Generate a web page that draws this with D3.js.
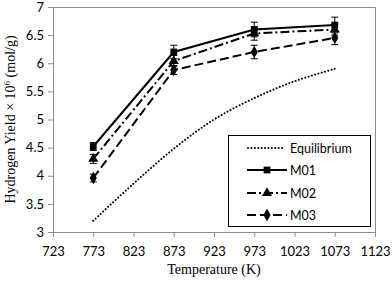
<!DOCTYPE html>
<html>
<head>
<meta charset="utf-8">
<script src="https://cdn.jsdelivr.net/npm/d3@7"></script>
<style>
	body { margin:0; background:#fff; }
	.tick_label { font-family:Lato, "Open Sans", sans-serif; font-size:13px; fill:#000; }
	.title { font-family:"Liberation Serif", "Times New Roman", serif; font-size:14px; fill:#000; }
	.leg_text { font-family:Lato, "Open Sans", sans-serif; font-size:12.5px; fill:#000; }
</style>
</head>
<body>
<svg id="chart" width="392" height="283"></svg>
<script>
"use strict";

// temperatures (K) for the catalyst runs
var temps = [773, 873, 973, 1073];
var m01 = [4.52, 6.2, 6.6, 6.68];
var m01_err = [0.07, 0.12, 0.13, 0.14];
var m02 = [4.3, 6.04, 6.53, 6.6];
var m02_err = [0.08, 0.1, 0.12, 0.1];
var m03 = [3.96, 5.88, 6.2, 6.45];
var m03_err = [0.07, 0.08, 0.12, 0.12];
// equilibrium curve
var eq_temps = [773, 823, 873, 923, 973, 1023, 1073];
var eq_vals = [3.2, 3.86, 4.48, 5.0, 5.38, 5.68, 5.9];
// ticks
var x_ticks = [723, 773, 823, 873, 923, 973, 1023, 1073, 1123];
var y_ticks = [3, 3.5, 4, 4.5, 5, 5.5, 6, 6.5, 7];
var series_names = ['Equilibrium', 'M01', 'M02', 'M03'];

var svg = d3.select('#chart');
var m_left = 53, m_right = 375, m_top = 7, m_bottom = 232;

var x = d3.scaleLinear().domain([723, 1123]).range([m_left, m_right]);
var y = d3.scaleLinear().domain([3, 7]).range([m_bottom, m_top]);

//*-*-*-*-*-*-*-*-*-*-*-*-*-*-*-*-*-*-*-
//      ***DRAW AXES***
//*-*-*-*-*-*-*-*-*-*-*-*-*-*-*-*-*-*-*
var xAxis = svg.append('g')
	.attr('transform', 'translate(0,' + m_bottom + ')')
	.call(d3.axisBottom(x).tickValues(x_ticks).tickSize(5).tickSizeOuter(0).tickFormat(d3.format('d')));
var yAxis = svg.append('g')
	.attr('transform', 'translate(' + m_left + ',0)')
	.call(d3.axisLeft(y).tickValues(y_ticks).tickSize(5).tickSizeOuter(0).tickFormat(function(d){ return d; }));
[xAxis, yAxis].forEach(function(ax)
{
	ax.selectAll('line, path').attr('stroke', '#8c8c8c').attr('stroke-width', 1);
	ax.selectAll('text').attr('class', 'tick_label').attr('font-size', null).attr('font-family', null);
});
xAxis.selectAll('text').attr('dy', null).attr('y', 24);
yAxis.selectAll('text').attr('x', -9);

// plot border (top + right)
svg.append('path')
	.attr('d', 'M' + m_left + ',' + (m_top + 0.5) + 'H' + (m_right + 0.5) + 'V' + m_bottom)
	.attr('fill', 'none').attr('stroke', '#8c8c8c');

// titles
svg.append('text').attr('class', 'title')
	.attr('x', (m_left + m_right) / 2).attr('y', 274)
	.attr('text-anchor', 'middle')
	.text('Temperature (K)');
var ytitle = svg.append('text').attr('class', 'title')
	.attr('transform', 'translate(15,' + ((m_top + m_bottom) / 2) + ') rotate(-90)')
	.attr('text-anchor', 'middle');
ytitle.append('tspan').text('Hydrogen Yield \u00d7 10');
ytitle.append('tspan').attr('dy', -5).attr('font-size', '9px').text('6');
ytitle.append('tspan').attr('dy', 5).text(' (mol/g)');

//*-*-*-*-*-*-*-*-*-*-*-*-*-*-*-*-*-*-*-
//      ***DRAW SERIES***
//*-*-*-*-*-*-*-*-*-*-*-*-*-*-*-*-*-*-*
var eq_line = d3.line().curve(d3.curveCatmullRom)
	.x(function(d, i){ return x(eq_temps[i]); })
	.y(function(d){ return y(d); });
svg.append('path').datum(eq_vals)
	.attr('d', eq_line)
	.attr('fill', 'none').attr('stroke', '#000').attr('stroke-width', 2)
	.attr('stroke-linecap', 'round').attr('stroke-dasharray', '0.1 3.3');

var line = d3.line()
	.x(function(d, i){ return x(temps[i]); })
	.y(function(d){ return y(d); });

var series = [
	{ name:'M01', vals:m01, err:m01_err, dash:null, sym:d3.symbolSquare, size:46 },
	{ name:'M02', vals:m02, err:m02_err, dash:'9 3 2 3', sym:d3.symbolTriangle, size:44 },
	{ name:'M03', vals:m03, err:m03_err, dash:'9 4', sym:d3.symbolDiamond, size:44 }
];

series.forEach(function(s)
{
	var g = svg.append('g').attr('class', 'series ' + s.name);
	g.append('path').datum(s.vals)
		.attr('d', line)
		.attr('fill', 'none').attr('stroke', '#000').attr('stroke-width', 2)
		.attr('stroke-dasharray', s.dash);
	// error bars
	s.vals.forEach(function(v, i)
	{
		var cx = x(temps[i]);
		var y1 = y(v + s.err[i]), y2 = y(v - s.err[i]);
		g.append('line').attr('x1', cx).attr('x2', cx).attr('y1', y1).attr('y2', y2)
			.attr('stroke', '#000').attr('stroke-width', 1);
		g.append('line').attr('x1', cx - 3.5).attr('x2', cx + 3.5).attr('y1', y1).attr('y2', y1)
			.attr('stroke', '#000').attr('stroke-width', 1);
		g.append('line').attr('x1', cx - 3.5).attr('x2', cx + 3.5).attr('y1', y2).attr('y2', y2)
			.attr('stroke', '#000').attr('stroke-width', 1);
	});
	g.selectAll('.marker')
		.data(s.vals).enter()
		.append('path')
			.attr('class', 'marker')
			.attr('d', d3.symbol().type(s.sym).size(s.size))
			.attr('transform', function(d, i){ return 'translate(' + x(temps[i]) + ',' + y(d) + ')'; })
			.attr('fill', '#000');
});

//*-*-*-*-*-*-*-*-*-*-*-*-*-*-*-*-*-*-*-
//      ***DRAW LEGEND***
//*-*-*-*-*-*-*-*-*-*-*-*-*-*-*-*-*-*-*
var legend = svg.append('g').attr('class', 'legend');
legend.append('rect')
	.attr('x', 228.5).attr('y', 135.5).attr('width', 142).attr('height', 91)
	.attr('fill', '#fff').attr('stroke', '#000').attr('stroke-width', 1);

var leg_y = [148, 170, 193, 215];
series_names.forEach(function(name, i)
{
	var ly = leg_y[i];
	var ln = legend.append('line')
		.attr('x1', 247).attr('x2', 287).attr('y1', ly).attr('y2', ly)
		.attr('stroke', '#000').attr('stroke-width', 2);
	if(i == 0)
		ln.attr('stroke-linecap', 'round').attr('stroke-dasharray', '0.1 3.3').attr('x1', 248).attr('x2', 285);
	else
	{
		var s = series[i - 1];
		ln.attr('stroke-dasharray', s.dash);
		legend.append('path')
			.attr('d', d3.symbol().type(s.sym).size(s.size))
			.attr('transform', 'translate(267,' + ly + ')')
			.attr('fill', '#000');
	}
	legend.append('text').attr('class', 'leg_text')
		.attr('x', 290).attr('y', ly + 4.5)
		.text(name);
});
</script>
</body>
</html>
